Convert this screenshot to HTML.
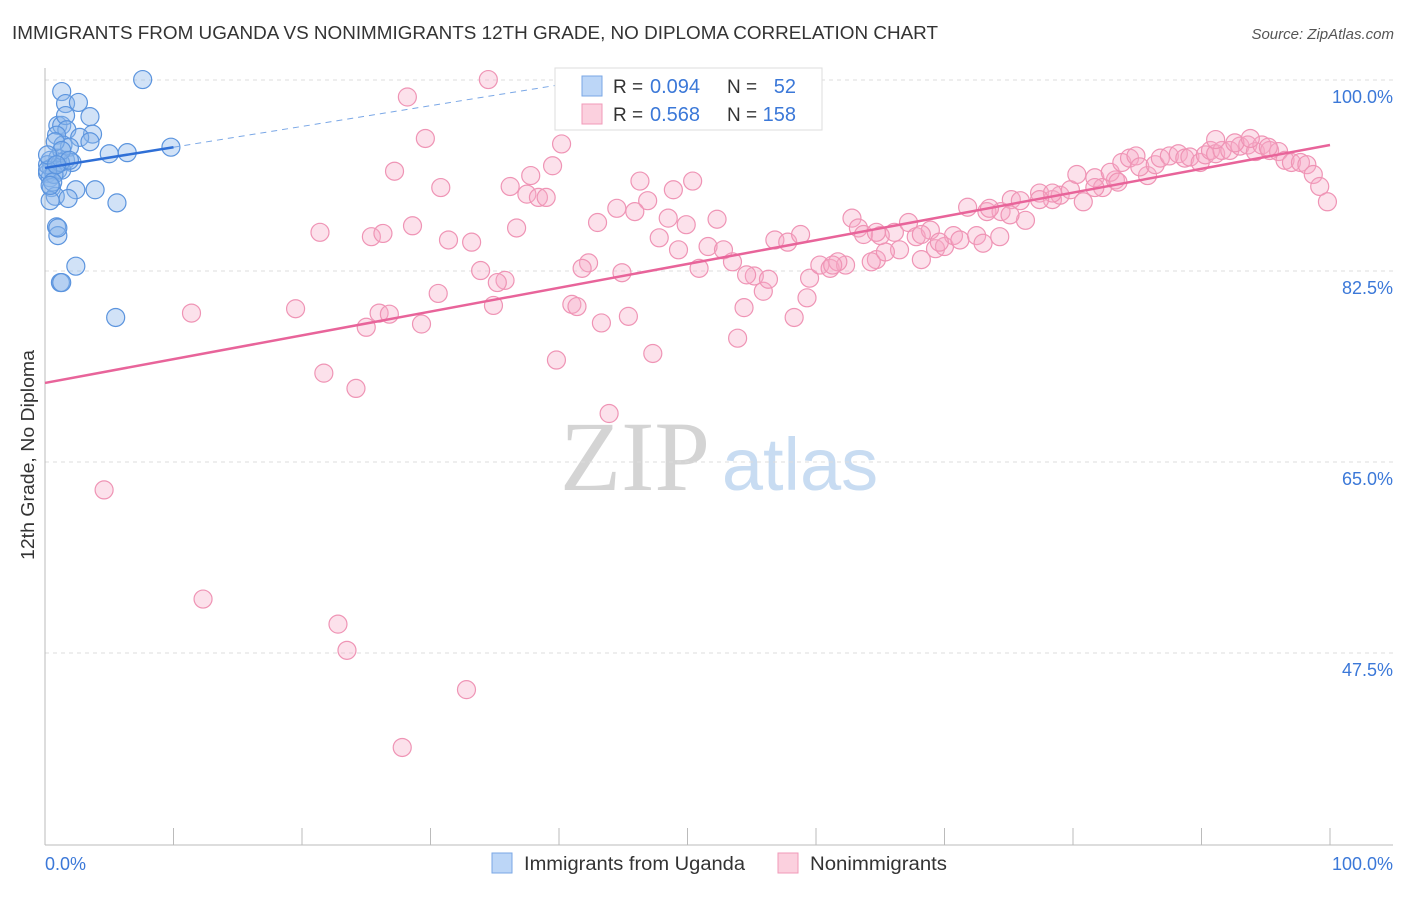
<!DOCTYPE html>
<html><head><meta charset="utf-8"><style>
body{margin:0;background:#fff;font-family:"Liberation Sans",sans-serif;}
svg text{font-family:"Liberation Sans",sans-serif;}
</style></head><body>
<svg id="c" width="1406" height="892">
<text x="12" y="39" font-size="18" textLength="926" lengthAdjust="spacingAndGlyphs" fill="#333">IMMIGRANTS FROM UGANDA VS NONIMMIGRANTS 12TH GRADE, NO DIPLOMA CORRELATION CHART</text>
<text x="1394" y="39" font-size="15" fill="#555" text-anchor="end" font-style="italic">Source: ZipAtlas.com</text>
<text x="34" y="455" font-size="18" fill="#333" text-anchor="middle" textLength="210" lengthAdjust="spacingAndGlyphs" transform="rotate(-90 34 455)">12th Grade, No Diploma</text>
<text x="635" y="490" font-size="100" fill="#d4d4d4" text-anchor="middle" style="font-family:'Liberation Serif',serif">ZIP</text>
<text x="800" y="490" font-size="74" fill="#c8dcf2" text-anchor="middle">atlas</text>
<g id="grid"></g><g id="pts"></g><g id="lines"></g>
<g>
<rect x="555" y="68" width="267" height="62" fill="#fff" stroke="#ddd"/>
<rect x="582" y="76" width="20" height="20" fill="#bcd6f7" stroke="#7aa7e6"/>
<rect x="582" y="104" width="20" height="20" fill="#fbd0de" stroke="#f09ab8"/>
<text x="613" y="93" font-size="19" fill="#333">R =</text>
<text x="650" y="93" font-size="20" fill="#3b78d8">0.094</text>
<text x="727" y="93" font-size="19" fill="#333">N =</text>
<text x="796" y="93" font-size="20" fill="#3b78d8" text-anchor="end">52</text>
<text x="613" y="121" font-size="19" fill="#333">R =</text>
<text x="650" y="121" font-size="20" fill="#3b78d8">0.568</text>
<text x="727" y="121" font-size="19" fill="#333">N =</text>
<text x="796" y="121" font-size="20" fill="#3b78d8" text-anchor="end">158</text>
</g>
<g>
<rect x="492" y="853" width="20" height="20" fill="#bcd6f7" stroke="#7aa7e6"/>
<text x="524" y="870" font-size="19" textLength="221" lengthAdjust="spacingAndGlyphs" fill="#333">Immigrants from Uganda</text>
<rect x="778" y="853" width="20" height="20" fill="#fbd0de" stroke="#f09ab8"/>
<text x="810" y="870" font-size="19" textLength="137" lengthAdjust="spacingAndGlyphs" fill="#333">Nonimmigrants</text>
</g>
<text x="45" y="870" font-size="18" fill="#3b78d8">0.0%</text>
<text x="1393" y="870" font-size="18" fill="#3b78d8" text-anchor="end">100.0%</text>
</svg>
<script>
const yTicks=[100,82.5,65,47.5];
const blueX=[1.3,7.6,1.6,2.6,1.0,1.3,3.5,1.6,1.7,3.7,0.9,2.7,3.5,1.4,1.9,5.0,6.4,9.8,0.4,1.0,1.6,2.1,0.5,1.0,0.2,0.4,1.3,0.5,2.4,3.9,0.8,1.8,0.4,5.6,0.9,1.0,1.0,2.4,1.2,1.3,5.5,0.2,0.7,1.2,0.2,0.6,0.8,1.3,0.2,1.9,0.9,0.4];
const blueY=[100.5,101.6,99.4,99.5,97.4,97.4,98.2,98.3,97.0,96.6,96.5,96.3,95.9,95.6,95.4,94.8,94.9,95.4,94.2,94.4,94.2,94.0,93.5,93.3,93.0,92.6,93.3,91.7,91.5,91.5,90.9,90.7,90.5,90.3,88.1,87.3,88.0,84.5,83.0,83.0,79.8,93.8,92.9,94.0,93.3,92.2,95.9,95.1,94.7,94.2,93.8,91.9];
const pinkX=[34.5,28.2,29.6,40.2,27.2,39.5,30.8,36.2,37.8,37.5,38.4,39.0,46.3,50.4,48.9,44.5,46.9,45.9,48.5,52.3,49.9,21.4,25.4,26.3,28.6,31.4,33.2,36.7,43.0,47.8,51.6,52.8,49.3,53.5,50.9,42.3,41.8,44.9,33.9,35.8,35.2,30.6,19.5,11.4,26.0,26.8,25.0,29.3,41.0,41.4,34.9,43.3,45.4,39.8,47.3,53.9,54.4,58.3,59.3,55.9,55.2,56.3,54.6,59.5,21.7,24.2,43.9,4.6,12.3,22.8,23.5,32.8,27.8,
56.8,57.8,58.8,62.8,63.3,63.7,66.1,67.2,67.8,68.9,66.5,68.2,69.3,70.0,70.7,71.2,72.5,73.0,74.3,71.8,73.3,74.4,76.3,75.2,75.9,77.4,78.4,79.0,79.8,80.8,80.3,81.7,82.3,83.3,82.9,83.8,84.4,84.9,85.8,85.2,86.4,86.8,87.5,88.2,88.7,89.1,89.9,90.3,90.7,91.1,91.6,92.2,93.0,93.6,94.2,94.7,95.3,96.0,96.5,97.0,97.7,98.2,98.7,99.2,99.8,60.3,61.1,62.3,61.7,64.7,64.3,65.4,91.1,92.6,93.8,95.2,81.7,83.5,78.4,77.4,75.1,73.5,69.6,65.0,68.2,64.7,61.3];
const pinkY=[101.6,100.0,96.2,95.7,93.2,93.7,91.7,91.8,92.8,91.1,90.8,90.8,92.3,92.3,91.5,89.8,90.5,89.5,88.9,88.8,88.3,87.6,87.2,87.5,88.2,86.9,86.7,88.0,88.5,87.1,86.3,86.0,86.0,84.9,84.3,84.8,84.3,83.9,84.1,83.2,83.0,82.0,80.6,80.2,80.2,80.1,78.9,79.2,81.0,80.8,80.9,79.3,79.9,75.9,76.5,77.9,80.7,79.8,81.6,82.2,83.6,83.3,83.7,83.4,74.7,73.3,71.0,64.0,54.0,51.7,49.3,45.7,40.4,
86.9,86.7,87.4,88.9,88.0,87.4,87.6,88.5,87.2,87.8,86.0,85.1,86.1,86.3,87.3,86.9,87.3,86.6,87.2,89.9,89.5,89.5,88.7,90.6,90.5,91.2,90.6,91.0,91.5,90.4,92.9,92.6,91.7,92.4,93.1,94.0,94.4,94.6,92.8,93.6,93.8,94.4,94.6,94.8,94.4,94.5,94.0,94.7,95.1,94.8,95.1,95.1,95.5,95.6,95.0,95.6,95.1,95.0,94.2,94.0,94.0,93.8,92.9,91.8,90.4,84.6,84.3,84.6,84.9,85.1,84.9,85.8,96.1,95.8,96.2,95.4,91.7,92.2,91.2,90.6,89.2,89.8,86.7,87.3,87.4,87.6,84.6];
const blueTrend=[93.5,95.4,101.3];
const blueTrendX=[0,10,41];
const pinkTrend=[73.8,95.6];
const pinkTrendX=[0,100];
const NS="http://www.w3.org/2000/svg";
const X=v=>45+v*12.85, Y=v=>97+(100-v)*10.914;
function mk(t,a,p){const e=document.createElementNS(NS,t);for(const k in a)e.setAttribute(k,a[k]);p.appendChild(e);return e;}
const g=document.getElementById('grid');
yTicks.forEach(t=>{
 const l=mk('line',{x1:45,x2:1393,y1:Y(t)-17,y2:Y(t)-17,stroke:'#ddd','stroke-dasharray':'4,4'},g);
 
 
 const tx=mk('text',{x:1393,y:Y(t)+6,'font-size':18,fill:'#3b78d8','text-anchor':'end'},g);
 tx.textContent=t.toFixed(1)+'%';
 
 
});
mk('line',{x1:45,x2:45,y1:68,y2:845,stroke:'#bbb'},g);
mk('line',{x1:45,x2:1393,y1:845,y2:845,stroke:'#bbb'},g);
for(let i=0;i<=10;i++){const t=mk('line',{x1:X(i*10),x2:X(i*10),y1:828,y2:845,stroke:'#bbb'},g);
 
 }
const p=document.getElementById('pts');
pinkX.forEach((x,i)=>{const c=mk('circle',{cx:X(x),cy:Y(pinkY[i]),r:9,fill:'rgba(246,170,198,0.35)',stroke:'#ef94b5','stroke-width':1.2},p);
 
 });
blueX.forEach((x,i)=>{const c=mk('circle',{cx:X(x),cy:Y(blueY[i]),r:9,fill:'rgba(140,182,236,0.4)',stroke:'#5b94de','stroke-width':1.2},p);
 
 });
const L=document.getElementById('lines');
const pl=mk('line',{x1:X(pinkTrendX[0]),y1:Y(pinkTrend[0]),x2:X(pinkTrendX[1]),y2:Y(pinkTrend[1]),stroke:'#e8649a','stroke-width':2.5},L);


const bl=mk('line',{x1:X(blueTrendX[0]),y1:Y(blueTrend[0]),x2:X(blueTrendX[1]),y2:Y(blueTrend[1]),stroke:'#2f6fd6','stroke-width':2.5},L);


const bd=mk('line',{x1:X(blueTrendX[1]),y1:Y(blueTrend[1]),x2:X(blueTrendX[2]),y2:Y(blueTrend[2]),stroke:'#7aa7e6','stroke-width':1,'stroke-dasharray':'6,5'},L);


</script>
</body></html>
